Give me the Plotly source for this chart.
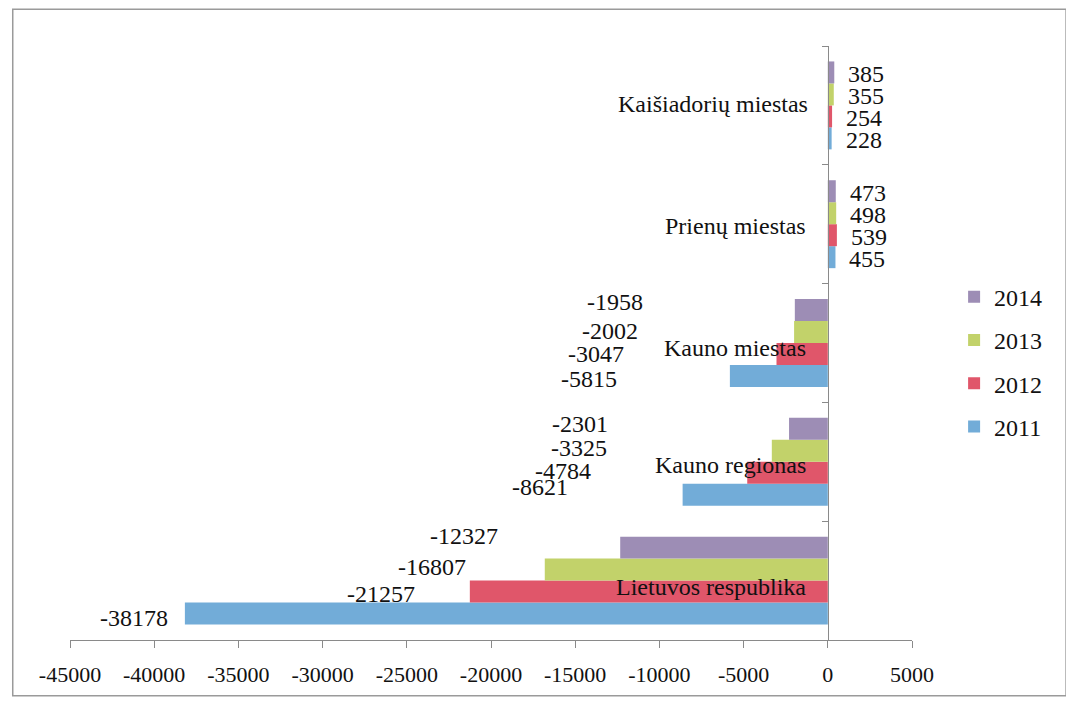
import plotly.graph_objects as go

# ---- data ----
categories = ["Lietuvos respublika", "Kauno regionas", "Kauno miestas",
              "Prienų miestas", "Kaišiadorių miestas"]
years = ["2011", "2012", "2013", "2014"]
v2011 = [-38178, -8621, -5815, 455, 228]
v2012 = [-21257, -4784, -3047, 539, 254]
v2013 = [-16807, -3325, -2002, 498, 355]
v2014 = [-12327, -2301, -1958, 473, 385]
x_ticks = [-45000, -40000, -35000, -30000, -25000, -20000, -15000, -10000, -5000, 0, 5000]

series = [v2011, v2012, v2013, v2014]

# ---- style ----
colors = ["#72acd8", "#e0566a", "#c2d26a", "#9d8db5"]
FONT = "Liberation Serif"
BARGAP = 0.26

# pixel offsets of value labels (hand placed in the original), per series / category
label_shift = {
    "2011": [(-15, -4), (-113, 8), (-111, -3), (12, -2), (12, -2)],
    "2012": [(-53, -2), (-154, 2), (-150, 0), (12, -2), (12, -2)],
    "2013": [(-77, 3), (-163, 3), (-154, 1), (12, -2), (12, -2)],
    "2014": [(-120, 12), (-179, 5), (-150, 8), (12, -2), (12, -2)],
}
cat_label_shift = [(-20, -6), (-20, -3), (-20, -5), (-20, -2), (-18, 1)]

fig = go.Figure()
ypos = list(range(len(categories)))
for i, (yr, vals, col) in enumerate(zip(years, series, colors)):
    fig.add_trace(go.Bar(
        y=ypos, x=vals, name=yr, orientation="h",
        marker=dict(color=col, line=dict(width=0)),
        legendgroup=yr, legendrank=100 - i,
    ))

n = len(years)
w = (1 - BARGAP) / n
annotations = []
for i, (yr, vals) in enumerate(zip(years, series)):
    for k, v in enumerate(vals):
        dx, dy = label_shift[yr][k]
        annotations.append(dict(
            x=v, y=k + (i - (n - 1) / 2) * w, xref="x", yref="y",
            text=str(v), showarrow=False,
            xanchor="left" if v >= 0 else "right", yanchor="middle",
            xshift=dx, yshift=dy,
            font=dict(family=FONT, size=24, color="#111111"),
        ))
for k, c in enumerate(categories):
    dx, dy = cat_label_shift[k]
    annotations.append(dict(
        x=0, y=k, xref="x", yref="y", text=c, showarrow=False,
        xanchor="right", yanchor="middle", xshift=dx, yshift=dy,
        font=dict(family=FONT, size=24, color="#111111"),
    ))

xmin, xmax = x_ticks[0], x_ticks[-1]
zero_frac = (0 - xmin) / (xmax - xmin)

fig.update_layout(
    width=1066, height=699,
    margin=dict(l=62, r=162, t=38, b=67),
    paper_bgcolor="white", plot_bgcolor="white",
    barmode="group", bargap=BARGAP, bargroupgap=0,
    font=dict(family=FONT, size=22, color="#111111"),
    showlegend=True,
    legend=dict(
        x=1.05, y=0.615, xanchor="left", yanchor="top",
        traceorder="grouped", tracegroupgap=9,
        font=dict(family=FONT, size=24, color="#111111"),
        itemwidth=30, bgcolor="rgba(0,0,0,0)",
    ),
    xaxis=dict(
        range=[xmin, xmax], tickvals=x_ticks, ticktext=[str(t) for t in x_ticks],
        showgrid=False, zeroline=False, showline=True, linecolor="#8a8a8a", linewidth=1.2,
        ticks="outside", ticklen=7, tickcolor="#8a8a8a", ticklabelstandoff=7,
        tickfont=dict(family=FONT, size=22, color="#111111"), fixedrange=True,
    ),
    yaxis=dict(
        range=[-0.5, len(categories) - 0.5],
        tickvals=[k - 0.5 for k in range(len(categories) + 1)],
        showticklabels=False, showgrid=False, zeroline=False,
        showline=True, linecolor="#8a8a8a", linewidth=1.2,
        ticks="outside", ticklen=6, tickcolor="#8a8a8a",
        anchor="free", position=zero_frac, fixedrange=True,
    ),
    annotations=annotations,
    shapes=[dict(type="rect", xref="paper", yref="paper",
                 x0=-0.068, x1=1.183, y0=-0.094, y1=1.062,
                 line=dict(color="#9a9a9a", width=1.5), fillcolor="rgba(0,0,0,0)")],
)

fig.write_html("out.html")
